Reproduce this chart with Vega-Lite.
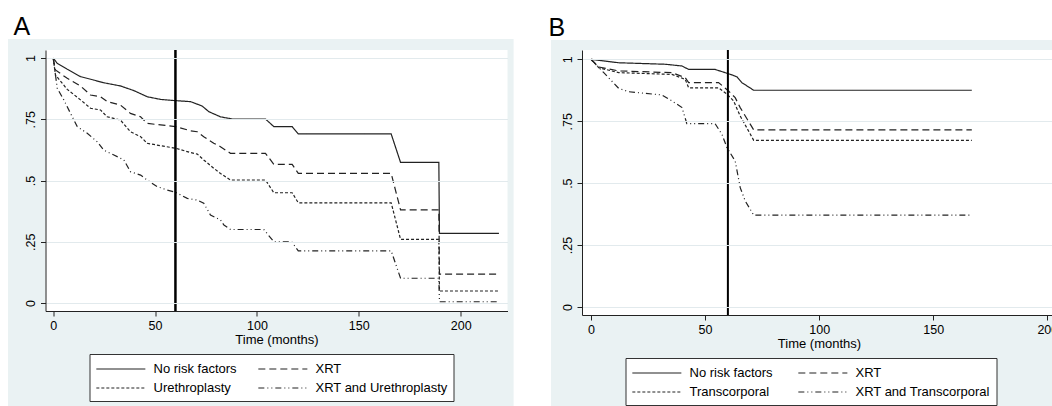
{
  "$schema": "https://vega.github.io/schema/vega-lite/v6.json",
  "background": "white",
  "padding": {"left": 7.5, "top": 15, "right": 0, "bottom": 0},
  "spacing": 33.5,
  "resolve": {"scale": {"strokeDash": "independent"}, "legend": {"strokeDash": "independent"}},
  "datasets": {
    "A": [
      {"g": "No risk factors", "t": 0, "s": 1}, {"g": "No risk factors", "t": 2, "s": 0.978}, {"g": "No risk factors", "t": 6.9, "s": 0.954}, {"g": "No risk factors", "t": 13.4, "s": 0.924}, {"g": "No risk factors", "t": 19.9, "s": 0.91}, {"g": "No risk factors", "t": 24.8, "s": 0.899}, {"g": "No risk factors", "t": 33, "s": 0.886}, {"g": "No risk factors", "t": 39.6, "s": 0.867}, {"g": "No risk factors", "t": 46.1, "s": 0.842}, {"g": "No risk factors", "t": 52.7, "s": 0.831}, {"g": "No risk factors", "t": 60, "s": 0.826}, {"g": "No risk factors", "t": 67.4, "s": 0.822}, {"g": "No risk factors", "t": 73.1, "s": 0.804}, {"g": "No risk factors", "t": 76.4, "s": 0.781}, {"g": "No risk factors", "t": 82.1, "s": 0.76}, {"g": "No risk factors", "t": 87.9, "s": 0.751}, {"g": "No risk factors", "t": 104.2, "s": 0.751}, {"g": "No risk factors", "t": 108.3, "s": 0.72}, {"g": "No risk factors", "t": 117.3, "s": 0.72}, {"g": "No risk factors", "t": 120.3, "s": 0.69}, {"g": "No risk factors", "t": 165.9, "s": 0.69}, {"g": "No risk factors", "t": 170.5, "s": 0.574}, {"g": "No risk factors", "t": 189.3, "s": 0.574}, {"g": "No risk factors", "t": 189.6, "s": 0.284}, {"g": "No risk factors", "t": 218.8, "s": 0.284},
      {"g": "XRT", "t": 0, "s": 1}, {"g": "XRT", "t": 1.1, "s": 0.951}, {"g": "XRT", "t": 6.9, "s": 0.917}, {"g": "XRT", "t": 13.4, "s": 0.886}, {"g": "XRT", "t": 18.3, "s": 0.849}, {"g": "XRT", "t": 23.2, "s": 0.842}, {"g": "XRT", "t": 26.5, "s": 0.822}, {"g": "XRT", "t": 33, "s": 0.808}, {"g": "XRT", "t": 37.9, "s": 0.774}, {"g": "XRT", "t": 42.9, "s": 0.76}, {"g": "XRT", "t": 46.1, "s": 0.733}, {"g": "XRT", "t": 52.7, "s": 0.727}, {"g": "XRT", "t": 60, "s": 0.72}, {"g": "XRT", "t": 67.4, "s": 0.703}, {"g": "XRT", "t": 70.7, "s": 0.699}, {"g": "XRT", "t": 73.9, "s": 0.679}, {"g": "XRT", "t": 78.8, "s": 0.652}, {"g": "XRT", "t": 82.1, "s": 0.638}, {"g": "XRT", "t": 87, "s": 0.611}, {"g": "XRT", "t": 104.2, "s": 0.611}, {"g": "XRT", "t": 108.3, "s": 0.566}, {"g": "XRT", "t": 117.3, "s": 0.566}, {"g": "XRT", "t": 120.3, "s": 0.529}, {"g": "XRT", "t": 165.9, "s": 0.529}, {"g": "XRT", "t": 170.5, "s": 0.38}, {"g": "XRT", "t": 189.3, "s": 0.38}, {"g": "XRT", "t": 189.6, "s": 0.118}, {"g": "XRT", "t": 218.8, "s": 0.118},
      {"g": "Urethroplasty", "t": 0, "s": 1}, {"g": "Urethroplasty", "t": 1.1, "s": 0.931}, {"g": "Urethroplasty", "t": 6.9, "s": 0.872}, {"g": "Urethroplasty", "t": 13.4, "s": 0.829}, {"g": "Urethroplasty", "t": 18.3, "s": 0.795}, {"g": "Urethroplasty", "t": 23.2, "s": 0.788}, {"g": "Urethroplasty", "t": 26.5, "s": 0.76}, {"g": "Urethroplasty", "t": 33, "s": 0.747}, {"g": "Urethroplasty", "t": 37.9, "s": 0.699}, {"g": "Urethroplasty", "t": 42.9, "s": 0.679}, {"g": "Urethroplasty", "t": 46.1, "s": 0.652}, {"g": "Urethroplasty", "t": 52.7, "s": 0.642}, {"g": "Urethroplasty", "t": 60, "s": 0.632}, {"g": "Urethroplasty", "t": 67.4, "s": 0.614}, {"g": "Urethroplasty", "t": 70.7, "s": 0.608}, {"g": "Urethroplasty", "t": 73.9, "s": 0.584}, {"g": "Urethroplasty", "t": 78.8, "s": 0.55}, {"g": "Urethroplasty", "t": 82.1, "s": 0.529}, {"g": "Urethroplasty", "t": 87, "s": 0.502}, {"g": "Urethroplasty", "t": 104.2, "s": 0.502}, {"g": "Urethroplasty", "t": 108.3, "s": 0.45}, {"g": "Urethroplasty", "t": 117.3, "s": 0.45}, {"g": "Urethroplasty", "t": 120.3, "s": 0.409}, {"g": "Urethroplasty", "t": 165.9, "s": 0.409}, {"g": "Urethroplasty", "t": 170.5, "s": 0.26}, {"g": "Urethroplasty", "t": 189.3, "s": 0.26}, {"g": "Urethroplasty", "t": 189.6, "s": 0.049}, {"g": "Urethroplasty", "t": 218.8, "s": 0.049},
      {"g": "XRT and Urethroplasty", "t": 0, "s": 1}, {"g": "XRT and Urethroplasty", "t": 2, "s": 0.876}, {"g": "XRT and Urethroplasty", "t": 5.2, "s": 0.829}, {"g": "XRT and Urethroplasty", "t": 8.5, "s": 0.774}, {"g": "XRT and Urethroplasty", "t": 11.8, "s": 0.72}, {"g": "XRT and Urethroplasty", "t": 16.7, "s": 0.693}, {"g": "XRT and Urethroplasty", "t": 21.6, "s": 0.658}, {"g": "XRT and Urethroplasty", "t": 24.8, "s": 0.624}, {"g": "XRT and Urethroplasty", "t": 29.8, "s": 0.604}, {"g": "XRT and Urethroplasty", "t": 34.7, "s": 0.584}, {"g": "XRT and Urethroplasty", "t": 37.9, "s": 0.536}, {"g": "XRT and Urethroplasty", "t": 42.9, "s": 0.522}, {"g": "XRT and Urethroplasty", "t": 46.1, "s": 0.502}, {"g": "XRT and Urethroplasty", "t": 51.1, "s": 0.475}, {"g": "XRT and Urethroplasty", "t": 56, "s": 0.461}, {"g": "XRT and Urethroplasty", "t": 60, "s": 0.452}, {"g": "XRT and Urethroplasty", "t": 65.8, "s": 0.427}, {"g": "XRT and Urethroplasty", "t": 70.7, "s": 0.42}, {"g": "XRT and Urethroplasty", "t": 73.9, "s": 0.407}, {"g": "XRT and Urethroplasty", "t": 77.2, "s": 0.359}, {"g": "XRT and Urethroplasty", "t": 82.1, "s": 0.339}, {"g": "XRT and Urethroplasty", "t": 83.8, "s": 0.318}, {"g": "XRT and Urethroplasty", "t": 87, "s": 0.3}, {"g": "XRT and Urethroplasty", "t": 103.4, "s": 0.3}, {"g": "XRT and Urethroplasty", "t": 108.3, "s": 0.25}, {"g": "XRT and Urethroplasty", "t": 117, "s": 0.25}, {"g": "XRT and Urethroplasty", "t": 120.3, "s": 0.213}, {"g": "XRT and Urethroplasty", "t": 165.9, "s": 0.213}, {"g": "XRT and Urethroplasty", "t": 170.5, "s": 0.101}, {"g": "XRT and Urethroplasty", "t": 189.3, "s": 0.101}, {"g": "XRT and Urethroplasty", "t": 189.6, "s": 0.005}, {"g": "XRT and Urethroplasty", "t": 218.8, "s": 0.005}
    ],
    "B": [
      {"g": "No risk factors", "t": 0, "s": 1}, {"g": "No risk factors", "t": 12.1, "s": 0.986}, {"g": "No risk factors", "t": 32.5, "s": 0.98}, {"g": "No risk factors", "t": 39.9, "s": 0.973}, {"g": "No risk factors", "t": 42.8, "s": 0.959}, {"g": "No risk factors", "t": 54.4, "s": 0.959}, {"g": "No risk factors", "t": 58.8, "s": 0.946}, {"g": "No risk factors", "t": 61.8, "s": 0.937}, {"g": "No risk factors", "t": 64, "s": 0.929}, {"g": "No risk factors", "t": 66.1, "s": 0.906}, {"g": "No risk factors", "t": 71.3, "s": 0.875}, {"g": "No risk factors", "t": 166.9, "s": 0.875},
      {"g": "XRT", "t": 0, "s": 1}, {"g": "XRT", "t": 3.4, "s": 0.969}, {"g": "XRT", "t": 12.1, "s": 0.953}, {"g": "XRT", "t": 35.5, "s": 0.946}, {"g": "XRT", "t": 41.3, "s": 0.926}, {"g": "XRT", "t": 42.8, "s": 0.906}, {"g": "XRT", "t": 55.9, "s": 0.906}, {"g": "XRT", "t": 60.3, "s": 0.872}, {"g": "XRT", "t": 63.2, "s": 0.845}, {"g": "XRT", "t": 65.4, "s": 0.805}, {"g": "XRT", "t": 71.3, "s": 0.715}, {"g": "XRT", "t": 166.9, "s": 0.715},
      {"g": "Transcorporal", "t": 0, "s": 1}, {"g": "Transcorporal", "t": 3.4, "s": 0.966}, {"g": "Transcorporal", "t": 12.1, "s": 0.946}, {"g": "Transcorporal", "t": 35.5, "s": 0.939}, {"g": "Transcorporal", "t": 41.3, "s": 0.919}, {"g": "Transcorporal", "t": 42.8, "s": 0.885}, {"g": "Transcorporal", "t": 55.9, "s": 0.885}, {"g": "Transcorporal", "t": 59.6, "s": 0.859}, {"g": "Transcorporal", "t": 62.5, "s": 0.832}, {"g": "Transcorporal", "t": 65.4, "s": 0.771}, {"g": "Transcorporal", "t": 71.3, "s": 0.673}, {"g": "Transcorporal", "t": 166.9, "s": 0.673},
      {"g": "XRT and Transcorporal", "t": 0, "s": 1}, {"g": "XRT and Transcorporal", "t": 5.6, "s": 0.946}, {"g": "XRT and Transcorporal", "t": 12.1, "s": 0.883}, {"g": "XRT and Transcorporal", "t": 16.5, "s": 0.869}, {"g": "XRT and Transcorporal", "t": 31.1, "s": 0.856}, {"g": "XRT and Transcorporal", "t": 35.5, "s": 0.832}, {"g": "XRT and Transcorporal", "t": 39.9, "s": 0.805}, {"g": "XRT and Transcorporal", "t": 42, "s": 0.74}, {"g": "XRT and Transcorporal", "t": 54.4, "s": 0.74}, {"g": "XRT and Transcorporal", "t": 57.4, "s": 0.697}, {"g": "XRT and Transcorporal", "t": 59.6, "s": 0.643}, {"g": "XRT and Transcorporal", "t": 63.2, "s": 0.589}, {"g": "XRT and Transcorporal", "t": 65.4, "s": 0.482}, {"g": "XRT and Transcorporal", "t": 67.6, "s": 0.428}, {"g": "XRT and Transcorporal", "t": 71.3, "s": 0.371}, {"g": "XRT and Transcorporal", "t": 166.9, "s": 0.371}
    ]
  },
  "hconcat": [
    {
      "width": 462,
      "height": 261,
      "title": {"text": "A", "anchor": "start", "frame": "bounds", "fontSize": 25, "fontWeight": "normal", "font": "Liberation Sans", "color": "black", "offset": -1, "dx": 5.5},
      "layer": [
        {
          "data": {"values": [{}]},
          "mark": {"type": "rect", "fill": "#EAF2F3"},
          "encoding": {
            "x": {"datum": -22.2, "type": "quantitative", "scale": {"domain": [-3.78, 223], "nice": false, "zero": false}},
            "x2": {"datum": 226},
            "y": {"datum": -0.42, "type": "quantitative", "scale": {"domain": [-0.0327, 1.0327], "nice": false, "zero": false}},
            "y2": {"datum": 1.0776}
          }
        },
        {
          "data": {"values": [{}]},
          "mark": {"type": "rect", "fill": "white"},
          "encoding": {
            "x": {"datum": -3.78, "type": "quantitative"},
            "x2": {"datum": 223},
            "y": {"datum": -0.0327, "type": "quantitative"},
            "y2": {"datum": 1.0327}
          }
        },
        {
          "data": {"name": "A"},
          "mark": {"type": "line", "stroke": "#222222", "strokeWidth": 1.2},
          "encoding": {
            "x": {"field": "t", "type": "quantitative", "scale": {"domain": [-3.78, 223], "nice": false, "zero": false},
                  "axis": {"values": [0, 50, 100, 150, 200], "title": "Time (months)", "grid": false, "zindex": 1}},
            "y": {"field": "s", "type": "quantitative", "scale": {"domain": [-0.0327, 1.0327], "nice": false, "zero": false},
                  "axis": {"values": [0, 0.25, 0.5, 0.75, 1], "title": null, "grid": true, "labelAngle": 270, "labelAlign": "center", "labelBaseline": "bottom", "labelExpr": "replace('' + datum.value, /^0\\./, '.')", "zindex": 1}},
            "strokeDash": {"field": "g", "type": "nominal",
                  "scale": {"domain": ["No risk factors", "XRT", "Urethroplasty", "XRT and Urethroplasty"], "range": [[1, 0], [7, 4], [3, 2], [6, 3, 1, 3, 1, 3]]},
                  "legend": {"title": null, "orient": "none", "direction": "horizontal", "legendX": 44, "legendY": 304, "columns": 2, "columnPadding": 18, "symbolType": "M-1,0H5", "symbolSize": 267, "labelOffset": 40}}
          }
        },
        {
          "data": {"values": [{"t": 60}]},
          "mark": {"type": "rule", "stroke": "black", "strokeWidth": 2.5},
          "encoding": {"x": {"field": "t", "type": "quantitative"}}
        }
      ]
    },
    {
      "width": 474,
      "height": 265,
      "title": {"text": "B", "anchor": "start", "frame": "bounds", "fontSize": 25, "fontWeight": "normal", "font": "Liberation Sans", "color": "black", "offset": -1, "dx": -2.5},
      "layer": [
        {
          "data": {"values": [{}]},
          "mark": {"type": "rect", "fill": "#EAF2F3"},
          "encoding": {
            "x": {"datum": -17.53, "type": "quantitative", "scale": {"domain": [-3.94, 203.8], "nice": false, "zero": false}},
            "x2": {"datum": 206.5},
            "y": {"datum": -0.41, "type": "quantitative", "scale": {"domain": [-0.0323, 1.0375], "nice": false, "zero": false}},
            "y2": {"datum": 1.078}
          }
        },
        {
          "data": {"values": [{}]},
          "mark": {"type": "rect", "fill": "white"},
          "encoding": {
            "x": {"datum": -3.94, "type": "quantitative"},
            "x2": {"datum": 203.8},
            "y": {"datum": -0.0323, "type": "quantitative"},
            "y2": {"datum": 1.0375}
          }
        },
        {
          "data": {"name": "B"},
          "mark": {"type": "line", "stroke": "#222222", "strokeWidth": 1.2},
          "encoding": {
            "x": {"field": "t", "type": "quantitative", "scale": {"domain": [-3.94, 203.8], "nice": false, "zero": false},
                  "axis": {"values": [0, 50, 100, 150, 200], "title": "Time (months)", "grid": false, "zindex": 1}},
            "y": {"field": "s", "type": "quantitative", "scale": {"domain": [-0.0323, 1.0375], "nice": false, "zero": false},
                  "axis": {"values": [0, 0.25, 0.5, 0.75, 1], "title": null, "grid": true, "labelAngle": 270, "labelAlign": "center", "labelBaseline": "bottom", "labelExpr": "replace('' + datum.value, /^0\\./, '.')", "zindex": 1}},
            "strokeDash": {"field": "g", "type": "nominal",
                  "scale": {"domain": ["No risk factors", "XRT", "Transcorporal", "XRT and Transcorporal"], "range": [[1, 0], [7, 4], [3, 2], [6, 3, 1, 3, 1, 3]]},
                  "legend": {"title": null, "orient": "none", "direction": "horizontal", "legendX": 43.5, "legendY": 308, "columns": 2, "columnPadding": 22, "symbolType": "M-1,0H5", "symbolSize": 267, "labelOffset": 40}}
          }
        },
        {
          "data": {"values": [{"t": 60}]},
          "mark": {"type": "rule", "stroke": "black", "strokeWidth": 2},
          "encoding": {"x": {"field": "t", "type": "quantitative"}}
        }
      ]
    }
  ],
  "config": {
    "view": {"stroke": null},
    "font": "Liberation Sans",
    "axis": {
      "labelFont": "Liberation Sans", "labelFontSize": 12.5, "labelColor": "black", "labelPadding": 3,
      "titleFont": "Liberation Sans", "titleFontSize": 13, "titleFontWeight": "normal", "titleColor": "black", "titlePadding": 2,
      "tickSize": 5, "tickColor": "#222222", "domainColor": "#222222", "domainWidth": 1,
      "gridColor": "#E2EAED", "gridWidth": 1, "labelFlush": false
    },
    "legend": {
      "symbolStrokeWidth": 1.2, "symbolStrokeColor": "#222222", "symbolFillColor": "transparent",
      "labelFont": "Liberation Sans", "labelFontSize": 13, "labelColor": "black", "labelLimit": 300,
      "strokeColor": "#333333", "fillColor": "white", "padding": 6, "rowPadding": 3
    }
  }
}
